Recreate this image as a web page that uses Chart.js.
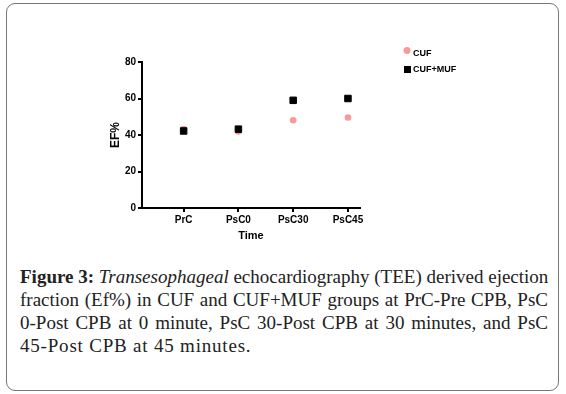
<!DOCTYPE html>
<html lang="en">
  <head>
    <meta charset="UTF-8" />
    <title>Figure 3 - EF%</title>
    <script src="https://cdn.jsdelivr.net/npm/chart.js"></script>
    <style>
      body { margin: 0; background: #fff; width: 566px; height: 394px; position: relative; overflow: hidden; }
      #frame {
        position: absolute; left: 6px; top: 3px; width: 551px; height: 386px;
        border: 1.5px solid #777; border-radius: 9px;
      }
      #chart { position: absolute; left: 0; top: 0; }
      #caption {
        position: absolute; left: 20px; top: 265px; width: 528px;
        font-family: "Liberation Serif", serif; font-size: 19px; line-height: 23px; color: #222;
      }
      #caption div { text-align: justify; text-align-last: justify; white-space: nowrap; }
      #caption div.last { text-align-last: left; letter-spacing: 0.8px; }
    </style>
  </head>
  <body>
    <div id="frame"></div>
    <canvas id="chart" width="566" height="250"></canvas>
    <div id="caption">
      <div><b>Figure 3:</b> <i>Transesophageal</i> echocardiography (TEE) derived ejection</div>
      <div>fraction (Ef%) in CUF and CUF+MUF groups at PrC-Pre CPB, PsC</div>
      <div>0-Post CPB at 0 minute, PsC 30-Post CPB at 30 minutes, and PsC</div>
      <div class="last">45-Post CPB at 45 minutes.</div>
    </div>
    <script>
      // data
      var categories = ["PrC", "PsC0", "PsC30", "PsC45"];
      var cufValues = [43.2, 41.9, 48.1, 49.6];
      var cufMufValues = [42.2, 43.2, 59.0, 60.0];
      var yTicks = [0, 20, 40, 60, 80];

      var pink = "#f89a9a";
      var axisFont = { family: "Liberation Sans", size: 10, weight: "bold" };

      function toPoints(vals) {
        return vals.map((v, i) => ({ x: i + 1, y: v }));
      }

      // legend drawn inside the plot box, top right
      var legendPlugin = {
        id: "sideLegend",
        afterDraw(chart) {
          var ctx = chart.ctx;
          ctx.save();
          ctx.fillStyle = pink;
          ctx.beginPath();
          ctx.arc(407, 50.5, 3.5, 0, Math.PI * 2);
          ctx.fill();
          ctx.fillStyle = "#000";
          ctx.fillRect(404, 66, 7, 7);
          ctx.font = "bold 9px 'Liberation Sans'";
          ctx.textBaseline = "middle";
          ctx.fillText("CUF", 413, 54);
          ctx.fillText("CUF+MUF", 413, 69.5);
          ctx.restore();
        },
      };

      new Chart(document.getElementById("chart"), {
        type: "scatter",
        data: {
          datasets: [
            {
              label: "CUF+MUF",
              data: toPoints(cufMufValues),
              pointStyle: "rect",
              pointRadius: 4.6,
              pointBorderWidth: 1,
              backgroundColor: "#000",
              borderColor: "#000",
              order: 0,
            },
            {
              label: "CUF",
              data: toPoints(cufValues),
              pointStyle: "circle",
              pointRadius: 3.3,
              pointBorderWidth: 0,
              backgroundColor: pink,
              borderColor: pink,
              order: 1,
            },
          ],
        },
        options: {
          responsive: false,
          animation: false,
          layout: { padding: { left: 100, top: 62, right: 206, bottom: 0 } },
          plugins: { legend: { display: false }, tooltip: { enabled: false } },
          scales: {
            x: {
              type: "linear",
              min: 0.24,
              max: 4.22,
              afterBuildTicks: (s) => { s.ticks = categories.map((c, i) => ({ value: i + 1 })); },
              afterFit: (s) => { s.height = 42; },
              ticks: { color: "#000", font: axisFont, padding: 2, callback: (v) => categories[v - 1] },
              grid: { display: true, drawOnChartArea: false, drawTicks: true, tickLength: 4, color: "#000", lineWidth: 2 },
              border: { display: true, color: "#000", width: 2 },
              title: {
                display: true, text: "Time", color: "#000",
                font: { family: "Liberation Sans", size: 11, weight: "bold" },
                padding: { top: 0, bottom: 7 },
              },
            },
            y: {
              min: 0,
              max: 80,
              afterBuildTicks: (s) => { s.ticks = yTicks.map((v) => ({ value: v })); },
              afterFit: (s) => { s.width = 42; },
              ticks: { color: "#000", font: axisFont, padding: 2 },
              grid: { display: true, drawOnChartArea: false, drawTicks: true, tickLength: 4, color: "#000", lineWidth: 2 },
              border: { display: true, color: "#000", width: 2 },
              title: {
                display: true, text: "EF%", color: "#000",
                font: { family: "Liberation Sans", size: 12, weight: "bold" },
                padding: { top: 8, bottom: 0 },
              },
            },
          },
        },
        plugins: [legendPlugin],
      });
    </script>
  </body>
</html>
